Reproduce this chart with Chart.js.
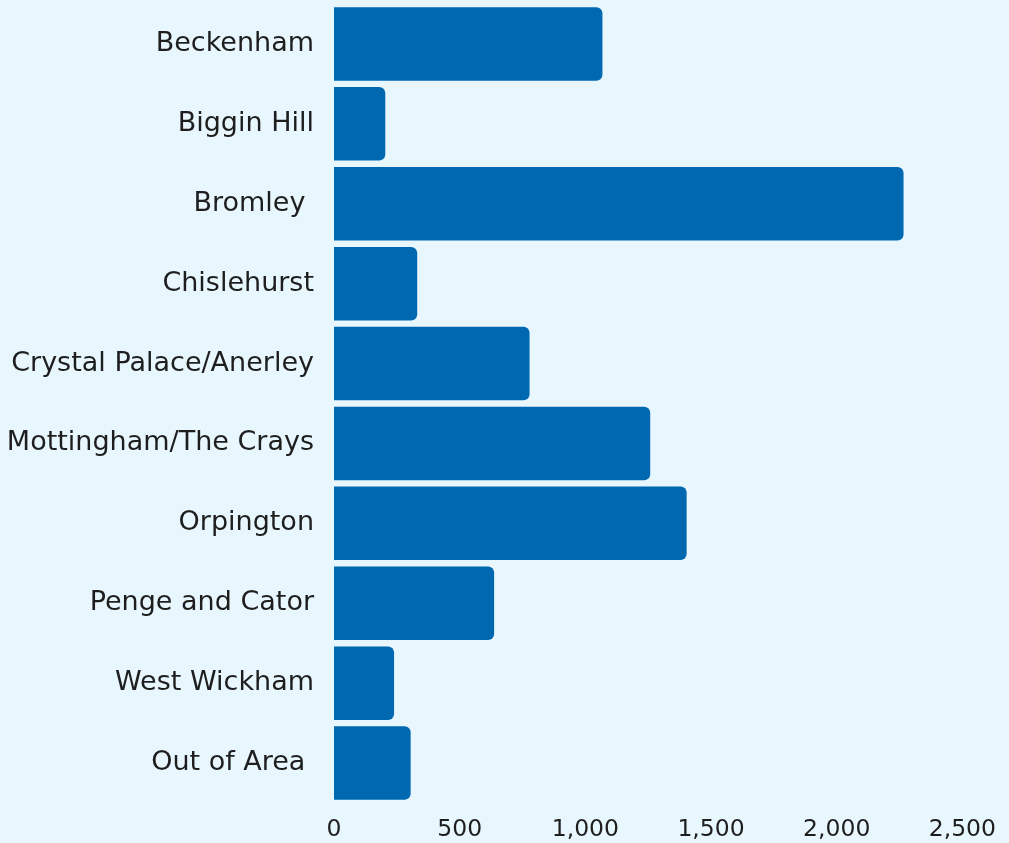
<!DOCTYPE html>
<html>
<head>
<meta charset="utf-8">
<script src="https://cdn.jsdelivr.net/npm/chart.js@4/dist/chart.umd.min.js"></script>
<style>
  html, body { margin: 0; padding: 0; background: #e8f6fe; }
  #wrap { width: 1009px; height: 843px; position: relative; }
</style>
</head>
<body>
<div id="wrap"><canvas id="myChart" width="1009" height="843"></canvas></div>
<script>
// wards and number of referrals
let wards = ['Beckenham', 'Biggin Hill', 'Bromley ', 'Chislehurst', 'Crystal Palace/Anerley',
    'Mottingham/The Crays', 'Orpington', 'Penge and Cator', 'West Wickham', 'Out of Area '];
let referrals = [1068, 204, 2266, 331, 778, 1258, 1403, 637, 239, 305];
let xTicks = [0, 500, 1000, 1500, 2000, 2500];

let ctx = document.getElementById('myChart').getContext('2d');

let wykres = new Chart(ctx, {
    type: 'bar',
    data: {
        labels: wards,
        datasets: [{
            data: referrals,
            backgroundColor: '#0068b1',
            borderRadius: 6,
            barPercentage: 0.92,
            categoryPercentage: 1
        }]
    },
    options: {
        indexAxis: 'y',
        responsive: false,
        animation: false,
        layout: { padding: { top: 4, right: 0, bottom: 0, left: 0 } },
        plugins: { legend: { display: false }, tooltip: { enabled: false } },
        scales: {
            x: {
                min: 0,
                max: 2500,
                afterBuildTicks: function(axis) {
                    axis.ticks = xTicks.map(v => ({ value: v }));
                },
                afterFit: function(axis) { axis.height = 40; },
                grid: { display: false, drawTicks: false },
                border: { display: false },
                ticks: {
                    color: '#1e1e1e',
                    padding: 13,
                    maxRotation: 0,
                    font: { family: 'DejaVu Sans', size: 23.5 },
                    callback: v => v.toLocaleString('en-GB')
                }
            },
            y: {
                afterFit: function(axis) {
                    axis.width = 334;
                    axis.paddingTop = 0;
                    axis.paddingBottom = 0;
                },
                grid: { display: false, drawTicks: false },
                border: { display: false },
                ticks: {
                    color: '#1e1e1e',
                    padding: 20,
                    font: { family: 'DejaVu Sans', size: 27 }
                }
            }
        }
    }
});
</script>
</body>
</html>
